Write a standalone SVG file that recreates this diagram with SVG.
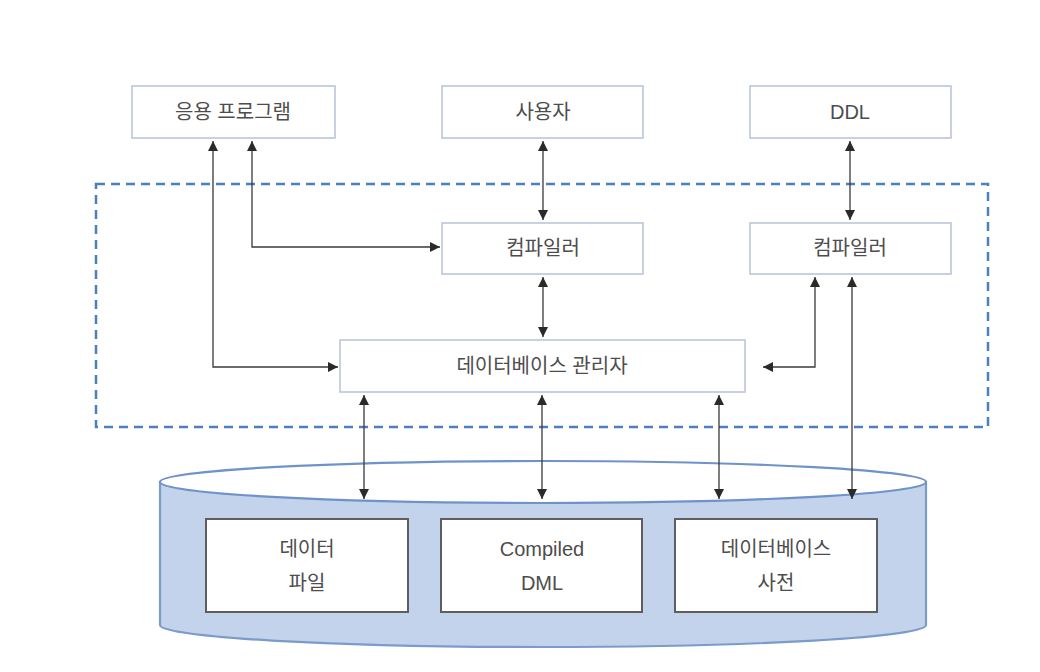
<svg xmlns="http://www.w3.org/2000/svg" width="1040" height="672" viewBox="0 0 1040 672">
<style>
.box{fill:#ffffff;stroke:#b9c6da;stroke-width:1.6}
.inner{fill:#ffffff;stroke:#5e5e5e;stroke-width:2}
.t{font-family:"Liberation Sans","Noto Sans CJK KR",sans-serif;font-size:20px;fill:#4d4d4d;text-anchor:middle;dominant-baseline:central}
.c{fill:none;stroke:#3a3a3a;stroke-width:1.3}
</style>
<defs>
<marker id="ah" viewBox="0 0 10 10" refX="10" refY="5" markerWidth="10" markerHeight="10" markerUnits="userSpaceOnUse" orient="auto-start-reverse">
<path d="M0,0 L10,5 L0,10 z" fill="#2a2a2a"/>
</marker>
</defs>
<rect width="1040" height="672" fill="#ffffff"/>
<rect id="dbms-boundary" x="96" y="184" width="892" height="243" fill="none" stroke="#4a7fc0" stroke-width="2.5" stroke-dasharray="9,6"/>
<g id="storage">
<path d="M160,482 L160,625 A383,22 0 0 0 926,625 L926,482 Z" fill="#c3d3ec" stroke="#7b9bcb" stroke-width="2.2"/>
<ellipse cx="543" cy="482" rx="383" ry="21" fill="#ffffff" stroke="#6f93c8" stroke-width="2.2"/>
</g>
<g id="app"><rect class="box" x="132" y="86" width="203" height="52"/><text class="t" x="233" y="112">응용 프로그램</text></g>
<g id="user"><rect class="box" x="442" y="86" width="201" height="52"/><text class="t" x="543" y="112">사용자</text></g>
<g id="ddl"><rect class="box" x="750" y="86" width="201" height="52"/><text class="t" x="850" y="112">DDL</text></g>
<g id="compiler1"><rect class="box" x="442" y="223" width="201" height="51"/><text class="t" x="543" y="248">컴파일러</text></g>
<g id="compiler2"><rect class="box" x="750" y="223" width="201" height="51"/><text class="t" x="850" y="248">컴파일러</text></g>
<g id="dbm"><rect class="box" x="340" y="340" width="405" height="52"/><text class="t" x="542" y="366">데이터베이스 관리자</text></g>
<g id="datafile"><rect class="inner" x="206" y="519" width="202" height="93"/><text class="t" x="307" y="549">데이터</text><text class="t" x="307" y="583">파일</text></g>
<g id="dml"><rect class="inner" x="441" y="519" width="201" height="93"/><text class="t" x="542" y="549">Compiled</text><text class="t" x="542" y="583">DML</text></g>
<g id="dict"><rect class="inner" x="675" y="519" width="202" height="93"/><text class="t" x="776" y="549">데이터베이스</text><text class="t" x="776" y="583">사전</text></g>
<g id="connectors">
<path class="c" d="M213,141 L213,367 L338,367" marker-start="url(#ah)" marker-end="url(#ah)"/>
<path class="c" d="M252,141 L252,247 L440,247" marker-start="url(#ah)" marker-end="url(#ah)"/>
<path class="c" d="M543,141 L543,220" marker-start="url(#ah)" marker-end="url(#ah)"/>
<path class="c" d="M543,277 L543,337" marker-start="url(#ah)" marker-end="url(#ah)"/>
<path class="c" d="M850,141 L850,220" marker-start="url(#ah)" marker-end="url(#ah)"/>
<path class="c" d="M763,367 L815,367 L815,277" marker-start="url(#ah)" marker-end="url(#ah)"/>
<path class="c" d="M852,277 L852,499" marker-start="url(#ah)" marker-end="url(#ah)"/>
<path class="c" d="M364,395 L364,499" marker-start="url(#ah)" marker-end="url(#ah)"/>
<path class="c" d="M542,395 L542,499" marker-start="url(#ah)" marker-end="url(#ah)"/>
<path class="c" d="M719,395 L719,499" marker-start="url(#ah)" marker-end="url(#ah)"/>
</g>
</svg>
